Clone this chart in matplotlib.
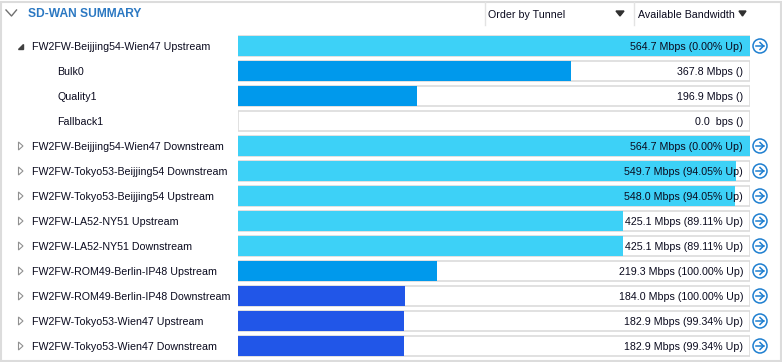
#!/usr/bin/env python3

import matplotlib
matplotlib.use("Agg")
import matplotlib.pyplot as plt
from matplotlib.patches import Circle, Polygon, Rectangle

W, H = 782, 362
ROW_TOP = 46
ROW_STEP = 25
BAR_H = 20

names = [
    "FW2FW-Beijjing54-Wien47 Upstream", "Bulk0", "Quality1", "Fallback1",
    "FW2FW-Beijjing54-Wien47 Downstream", "FW2FW-Tokyo53-Beijjing54 Downstream",
    "FW2FW-Tokyo53-Beijjing54 Upstream", "FW2FW-LA52-NY51 Upstream",
    "FW2FW-LA52-NY51 Downstream", "FW2FW-ROM49-Berlin-IP48 Upstream",
    "FW2FW-ROM49-Berlin-IP48 Downstream", "FW2FW-Tokyo53-Wien47 Upstream",
    "FW2FW-Tokyo53-Wien47 Downstream",
]
values = [564.7, 367.8, 196.9, 0.0, 564.7, 549.7, 548.0, 425.1, 425.1, 219.3, 184.0, 182.9, 182.9]
labels = [
    "564.7 Mbps (0.00% Up)", "367.8 Mbps ()", "196.9 Mbps ()", "0.0  bps ()",
    "564.7 Mbps (0.00% Up)", "549.7 Mbps (94.05% Up)", "548.0 Mbps (94.05% Up)",
    "425.1 Mbps (89.11% Up)", "425.1 Mbps (89.11% Up)", "219.3 Mbps (100.00% Up)",
    "184.0 Mbps (100.00% Up)", "182.9 Mbps (99.34% Up)", "182.9 Mbps (99.34% Up)",
]
colors = [
    "#3DD1F7", "#0099EC", "#0099EC", "#0099EC", "#3DD1F7", "#3DD1F7", "#3DD1F7",
    "#3DD1F7", "#3DD1F7", "#0099EC", "#2156E8", "#2156E8", "#2156E8",
]
children = [False, True, True, True] + [False] * 9

plt.rcParams["font.family"] = ["Liberation Sans", "DejaVu Sans"]
TEXT = "#0A0A1E"
FS = 7.7
TEXT_DY = 0.8

fig = plt.figure(figsize=(W / 100, H / 100), dpi=100, facecolor="white")

# pixel canvas for the window chrome and row captions
bg = fig.add_axes([0, 0, 1, 1])
bg.set_xlim(0, W)
bg.set_ylim(H, 0)
bg.axis("off")

bg.add_patch(Rectangle((0.5, 1.5), W - 2, H - 3, fc="white", ec="#DCDCDC", lw=1.5))
bg.plot([6, 11.5, 16.5], [10, 16, 10], color="#707070", lw=1)
bg.text(28, 14, "SD-WAN SUMMARY", color="#2B78C2", fontsize=8.65, fontweight="bold",
        va="center", ha="left")
bg.plot([484.5, 484.5], [2, 25], color="#E3E3E3", lw=1)
bg.plot([633.5, 633.5], [2, 25], color="#E3E3E3", lw=1)
bg.text(488, 14.5, "Order by Tunnel", color=TEXT, fontsize=FS, va="center")
bg.text(638, 14.5, "Available Bandwidth", color=TEXT, fontsize=FS, va="center")
bg.add_patch(Polygon([(616, 11), (624, 11), (620, 16)], color="#303030"))
bg.add_patch(Polygon([(739, 11), (746, 11), (742.5, 16)], color="#303030"))

for i, name in enumerate(names):
    y = ROW_TOP + i * ROW_STEP
    if children[i]:
        bg.text(57, y + TEXT_DY, name, color=TEXT, fontsize=FS, va="center", ha="left")
        continue
    bg.text(32, y + TEXT_DY, name, color=TEXT, fontsize=FS, va="center", ha="left")
    if i == 0:
        bg.add_patch(Polygon([(18, y + 2.5), (23, y + 2.5), (23, y - 2.5)], color="#404040"))
    else:
        bg.add_patch(Polygon([(18.5, y - 4), (18.5, y + 4), (23, y)], fc="white", ec="#909090", lw=0.8))
    cx = 760
    bg.add_patch(Circle((cx, y), 7, fc="white", ec="#1E7FD0", lw=1.1))
    bg.plot([cx - 4, cx + 3.5], [y, y], color="#1E7FD0", lw=1.1)
    bg.plot([cx, cx + 3.5, cx], [y - 3.5, y, y + 3.5], color="#1E7FD0", lw=1.1)

# the bars live in their own axes, scaled so the largest value fills the track
ax = fig.add_axes([238 / W, 0, 512 / W, 1])
ax.patch.set_alpha(0)
ax.set_xlim(0, max(values))
ax.set_ylim((H - ROW_TOP) / ROW_STEP, -ROW_TOP / ROW_STEP)
ax.axis("off")

rows = list(range(len(values)))
ax.barh(rows, [max(values)] * len(rows), height=BAR_H / ROW_STEP, color="white",
        edgecolor="#DCDCDC", linewidth=1.2)
ax.barh(rows, values, height=BAR_H / ROW_STEP, color=colors)
for r, label in zip(rows, labels):
    ax.annotate(label, (max(values), r), xytext=(-5, -TEXT_DY * 0.72), textcoords="offset points",
                ha="right", va="center", fontsize=FS, color=TEXT)

fig.savefig("out.png", dpi=100)
